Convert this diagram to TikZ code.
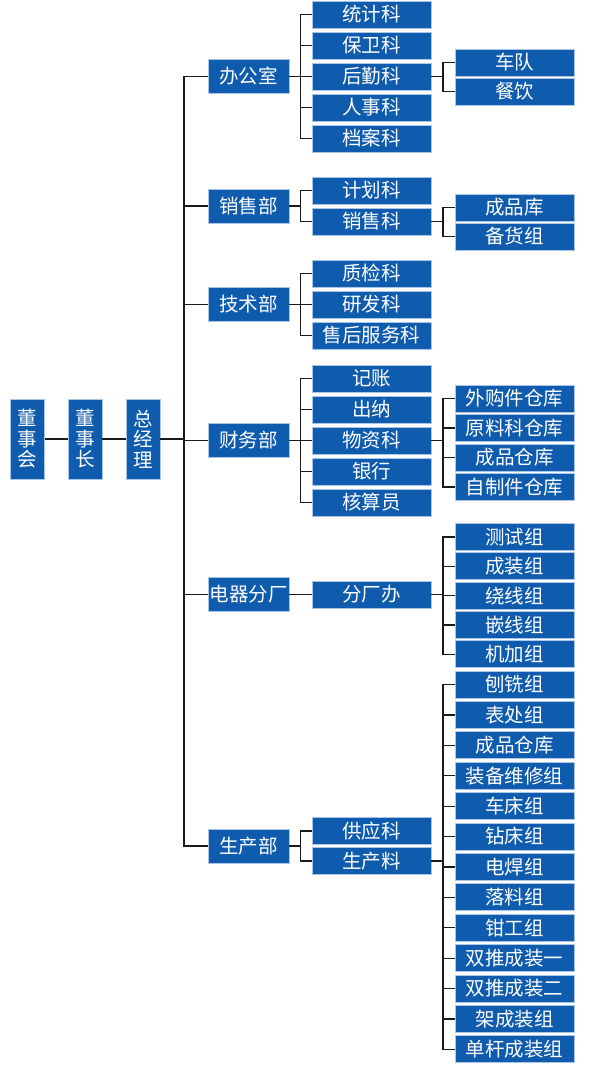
\documentclass[tikz,border=0pt]{standalone}
\usepackage{fontspec}
\newfontfamily\cjk{Noto Sans CJK SC}
\usetikzlibrary{positioning}
\definecolor{boxblue}{HTML}{0F5CAF}
\definecolor{boxedge}{HTML}{A8C6E8}
\definecolor{ink}{HTML}{1A1A1A}

\begin{document}
\begin{tikzpicture}[x=1pt, y=-1pt, font={\cjk\fontsize{19.5}{20.5}\selectfont},
    box/.style={draw=boxedge, fill=boxblue, text=white, line width=0.7pt, inner sep=0pt, outer sep=0pt},
    tall/.style={box, minimum width=34pt, minimum height=80pt, align=center},
    dept/.style={box, minimum width=81pt, minimum height=34pt},
    sect/.style={box, minimum width=119pt, minimum height=27pt},
    link/.style={draw=ink, line width=1.2pt}]
  \useasboundingbox (0,0) rectangle (594,1071);

  \node[tall] (dsh) at (27.5,439) {董\\事\\会};
  \node[tall] (dsz) at (85,439) {董\\事\\长};
  \node[tall] (zjl) at (143,439) {总\\经\\理};

  \foreach \n/\y/\t in {bgs/76.5/办公室, xsb/206/销售部, jsb/304.5/技术部,
                        cwb/440.5/财务部, dqfc/594.5/电器分厂, scb/846/生产部}
    \node[dept] (\n) at (248.5,\y) {\t};

  % second column
  \foreach \t [count=\i] in {统计科,保卫科,后勤科,人事科,档案科}
    \node[sect] (bgs\i) at (371.5,{14.5+31*(\i-1)}) {\t};
  \node[sect] (xsb1) at (371.5,190.5) {计划科};
  \node[sect, below=4pt of xsb1] (xsb2) {销售科};
  \foreach \t [count=\i] in {质检科,研发科,售后服务科}
    \node[sect] (jsb\i) at (371.5,{273.5+31*(\i-1)}) {\t};
  \foreach \t [count=\i] in {记账,出纳,物资科,银行,核算员}
    \node[sect] (cwb\i) at (371.5,{378.5+31*(\i-1)}) {\t};
  \node[sect] (dqfc1) at (371.5,594.5) {分厂办};
  \node[sect] (scb1) at (371.5,831) {供应科};
  \node[sect, below=3pt of scb1] (scb2) {生产料};

  % third column
  \node[sect] (hq1) at (514.5,62.5) {车队};
  \node[sect, below=2pt of hq1] (hq2) {餐饮};
  \node[sect] (xs1) at (514.5,207.5) {成品库};
  \node[sect, below=2pt of xs1] (xs2) {备货组};
  \foreach \t [count=\i] in {外购件仓库,原料科仓库,成品仓库,自制件仓库}
    \node[sect] (wz\i) at (514.5,{398.5+29.5*(\i-1)}) {\t};
  \foreach \t [count=\i] in {测试组,成装组,绕线组,嵌线组,机加组}
    \node[sect] (fc\i) at (514.5,{537+29.3*(\i-1)}) {\t};
  \foreach \t [count=\i] in {刨铣组,表处组,成品仓库,装备维修组,车床组,钻床组,电焊组,
                             落料组,钳工组,双推成装一,双推成装二,架成装组,单杆成装组}
    \node[sect] (sc\i) at (514.5,{684.5+30.4*(\i-1)}) {\t};

  \draw[link] (dsh) -- (dsz);
  \draw[link] (dsz) -- (zjl);
  \foreach \d in {bgs,xsb,jsb,cwb,dqfc,scb}
    \draw[link] (zjl.east) -- ++(24,0) |- (\d.west);
  \foreach \p/\n in {bgs/5, xsb/2, jsb/3, cwb/5, dqfc/1, scb/2}
    \foreach \i in {1,...,\n}
      \draw[link] (\p.east) -- ++(11.5,0) |- (\p\i.west);
  \foreach \p/\q/\n in {bgs3/hq/2, xsb2/xs/2, cwb3/wz/4, dqfc1/fc/5, scb2/sc/13}
    \foreach \i in {1,...,\n}
      \draw[link] (\p.east) -- ++(12,0) |- (\q\i.west);
\end{tikzpicture}
\end{document}
